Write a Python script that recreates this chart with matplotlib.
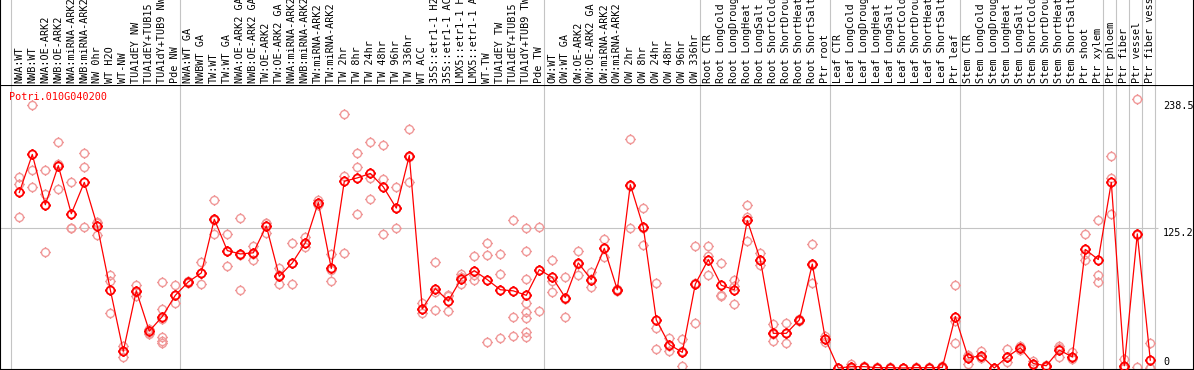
import matplotlib
matplotlib.use("Agg")
import matplotlib.pyplot as plt
import matplotlib.transforms as mtransforms
from matplotlib.path import Path

gene = "Potri.010G040200"

labels = [
    "NWA:WT", "NWB:WT", "NWA:OE-ARK2", "NWB:OE-ARK2", "NWA:miRNA-ARK2",
    "NWB:miRNA-ARK2", "NW 0hr", "WT H2O", "WT-NW", "TUA1dEY NW",
    "TUA1dEY+TUB15 NW", "TUA1dY+TUB9 NW", "Pde NW",
    "NWA:WT GA", "NWBWT GA", "TW:WT", "TW:WT GA", "NWA:OE-ARK2 GA",
    "NWB:OE-ARK2 GA", "TW:OE-ARK2", "TW:OE-ARK2 GA", "NWA:miRNA-ARK2 GA",
    "NWB:miRNA-ARK2 GA", "TW:miRNA-ARK2", "TW:miRNA-ARK2 GA", "TW 2hr",
    "TW 8hr", "TW 24hr", "TW 48hr", "TW 96hr", "TW 336hr", "WT ACC",
    "35S::etr1-1 H2O", "35S::etr1-1 ACC", "LMX5::etr1-1 H2O",
    "LMX5::etr1-1 ACC", "WT-TW", "TUA1dEY TW", "TUA1dEY+TUB15 TW",
    "TUA1dY+TUB9 TW", "Pde TW",
    "OW:WT", "OW:WT GA", "OW:OE-ARK2", "OW:OE-ARK2 GA", "OW:miRNA-ARK2",
    "OW:miRNA-ARK2 GA", "OW 2hr", "OW 8hr", "OW 24hr", "OW 48hr", "OW 96hr",
    "OW 336hr",
    "Root CTR", "Root LongCold", "Root LongDrought", "Root LongHeat",
    "Root LongSalt", "Root ShortCold", "Root ShortDrought", "Root ShortHeat",
    "Root ShortSalt", "Ptr root",
    "Leaf CTR", "Leaf LongCold", "Leaf LongDrought", "Leaf LongHeat",
    "Leaf LongSalt", "Leaf ShortCold", "Leaf ShortDrought", "Leaf ShortHeat",
    "Leaf ShortSalt", "Ptr leaf",
    "Stem CTR", "Stem LongCold", "Stem LongDrought", "Stem LongHeat",
    "Stem LongSalt", "Stem ShortCold", "Stem ShortDrought", "Stem ShortHeat",
    "Stem ShortSalt", "Ptr shoot", "Ptr xylem",
    "Ptr phloem", "Ptr fiber", "Ptr vessel", "Ptr fiber vessel",
]

means = [
    157, 191, 146, 181, 138, 166, 127, 70, 15, 69, 33, 46, 65,
    77, 85, 133, 105, 102, 103, 127, 82, 94, 112, 148, 89, 167, 170, 174,
    162, 143, 190, 53, 71, 60, 80, 87, 79, 70, 69, 65, 88,
    81, 63, 94, 79, 107, 70, 164, 126, 43, 21, 14, 75,
    97, 74, 70, 132, 97, 31, 31, 43, 93, 26,
    0, 1.2, 1.2, 0.3, 0.3, 0, 0.3, 0.3, 0.5, 46,
    9, 11, 0, 10, 18, 4, 2, 16, 10, 106, 97,
    166, 2, 120, 7,
]

replicates = [
    [171, 165, 135], [235, 177, 162], [177, 156, 104], [202, 182, 160],
    [166, 125, 125], [192, 180, 126], [131, 130, 119], [83, 78, 49],
    [20, 15, 10], [74, 68, 64], [35, 31, 30], [77, 53, 44, 28, 24, 22],
    [74, 65, 58],
    [78, 77, 76], [95, 85, 75], [150, 132, 120], [120, 105, 91],
    [134, 101, 70], [109, 102, 97], [130, 130, 121], [89, 83, 75],
    [112, 94, 75], [117, 112, 108], [150, 148, 146], [102, 88, 78],
    [227, 172, 103], [192, 180, 138], [202, 170, 151], [199, 169, 120],
    [162, 143, 125], [214, 189, 166], [58, 53, 49], [95, 68, 52],
    [65, 64, 51], [84, 81, 75], [100, 83, 79], [112, 101, 23],
    [102, 84, 27], [132, 46, 29], [125, 105, 80, 58, 50, 45, 32, 28],
    [126, 88, 51],
    [97, 78, 68], [81, 62, 46], [105, 93, 83], [86, 80, 72],
    [115, 107, 99], [71, 70, 69], [205, 163, 125], [143, 125, 110],
    [76, 36, 17], [27, 20, 15], [26, 15, 2], [109, 76, 40],
    [109, 100, 83], [94, 65, 64], [79, 73, 57], [146, 135, 114],
    [103, 97, 92], [39, 30, 24], [40, 31, 22], [44, 43, 42],
    [111, 92, 76], [29, 26, 23],
    [0, 0, 0], [4, 0, 0], [2, 1, 1], [0.5, 0.3, 0], [0.5, 0.3, 0],
    [0, 0, 0], [1, 0, 0], [0.5, 0.3, 0], [2, 0, 0], [74, 42, 22],
    [11, 12, 4], [15, 10, 9], [0, 0, 0], [17, 10, 5], [20, 18, 16],
    [6, 4, 3], [3, 2, 1], [20, 18, 10], [14, 10, 8], [120, 102, 97],
    [132, 83, 77],
    [190, 170, 138], [8, 0, 0], [241, 119, 1], [22, 0, 0],
]

# first column of each group (last entry closes the final group)
group_starts = [0, 13, 41, 53, 63, 73, 84, 85, 86, 87, 88]
y_marks = [238.5, 125.2, 0]

W, H = 1194, 370
plt.rcParams["font.family"] = ["DejaVu Sans Mono"]
fig = plt.figure(figsize=(W / 100, H / 100), dpi=100)


def px_rect(left, top, right, bottom):
    return [left / W, 1 - bottom / H, (right - left) / W, (bottom - top) / H]


ax = fig.add_axes(px_rect(0, 85, 1193, 369))
lab = fig.add_axes(px_rect(0, 0, 1193, 85), sharex=ax)

x0, step = 19.3, 13.0
ax.set_xlim(-x0 / step, (1193 - x0) / step)
ax.set_ylim(-0.9, 253.1)
lab.set_ylim(0, 1)

for a in (ax, lab):
    a.set_xticks([])
    a.set_yticks([])
    for s in a.spines.values():
        s.set_linewidth(0.8)
        s.set_color("black")
lab.spines["top"].set_visible(False)
lab.spines["bottom"].set_visible(False)

grid = "#c4c4c4"
for k in group_starts:
    ax.axvline(k - 0.64, color=grid, lw=0.8, zorder=0)
    lab.axvline(k - 0.64, color=grid, lw=0.8, zorder=0)
ax.hlines(125.2, -x0 / step, (1158 - x0) / step, color=grid, lw=0.8, zorder=0)

# open circle with small ticks, like the original renderer
ticks = Path([(0, 1), (0, 1.35), (0, -1), (0, -1.35),
              (1, 0), (1.35, 0), (-1, 0), (-1.35, 0)],
             [Path.MOVETO, Path.LINETO] * 4)
ring = Path.make_compound_path(Path.unit_circle(), ticks)

xs = list(range(len(means)))
rep_x = [i for i, r in enumerate(replicates) for _ in r]
rep_y = [v for r in replicates for v in r]

ax.plot(rep_x, rep_y, ls="none", marker=ring, ms=7.8, mfc="none",
        mec="#f09898", mew=1.0, zorder=2)
ax.plot(xs, means, color="red", lw=0.9, marker=ring, ms=7.8, mfc="none",
        mec="red", mew=1.3, zorder=3)

fs = 7.3
ax.text(9 / 1193, 1 - 7 / 284, gene, transform=ax.transAxes, color="red",
        fontsize=fs, va="top", ha="left")

tx = (1163 - x0) / step
ax.text(tx, y_marks[0], "238.5", fontsize=fs, va="top", ha="left", clip_on=False)
ax.text(tx, y_marks[1], "125.2", fontsize=fs, va="top", ha="left", clip_on=False)
ax.text(tx, y_marks[2] + 0.8, "0", fontsize=fs, va="bottom", ha="left", clip_on=False)

trans = mtransforms.blended_transform_factory(lab.transData, lab.transAxes)
for i, name in enumerate(labels):
    lab.text(i, 2 / 85, name, transform=trans, rotation=90, ha="center",
             va="bottom", fontsize=fs, clip_on=True)

fig.savefig("out.png", dpi=100)
